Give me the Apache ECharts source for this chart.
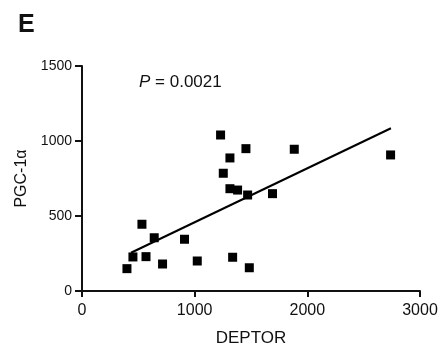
<!DOCTYPE html>
<html>
<head>
<meta charset="utf-8">
<script src="https://cdn.jsdelivr.net/npm/echarts@6/dist/echarts.min.js"></script>
<style>html,body{margin:0;padding:0;background:#fff;}#c{width:441px;height:346px;}</style>
</head>
<body>
<div id="c"></div>
<script>
var deptor = [399, 452, 532, 568, 641, 715, 910, 1023, 1230, 1254, 1313, 1313, 1337, 1381, 1455, 1470, 1485, 1691, 1884, 2739];
var pgc1a  = [149, 227, 445, 229, 355, 180, 345, 200, 1040, 785, 887, 682, 225, 673, 949, 640, 155, 649, 945, 907];
var fitX = [435, 2742];
var fitY = [255, 1085];
var xTicks = [0, 1000, 2000, 3000];
var yTicks = [0, 500, 1000, 1500];
var panelLabel = 'E';
var pText = '0.0021';

var FONT = 'Arial, "Liberation Sans", sans-serif';
var chart = echarts.init(document.getElementById('c'));
chart.setOption({
  animation: false,
  backgroundColor: '#ffffff',
  title: [
    {text: panelLabel, left: 13, top: 8, textStyle: {fontFamily: FONT, fontSize: 25, fontWeight: 'bold', color: '#111'}},
    {text: '{i|P} = ' + pText, left: 134, top: 69, textStyle: {fontFamily: FONT, fontSize: 17, fontWeight: 'normal', color: '#111',
      rich: {i: {fontStyle: 'italic', fontFamily: FONT, fontSize: 17, color: '#111'}}}}
  ],
  grid: {left: 82, right: 21, top: 66, bottom: 55, containLabel: false, outerBoundsMode: 'none'},
  xAxis: {
    type: 'value', min: xTicks[0], max: xTicks[xTicks.length - 1], interval: 1000,
    name: 'DEPTOR', nameLocation: 'middle', nameGap: 39,
    nameTextStyle: {fontFamily: FONT, fontSize: 17, color: '#111'},
    axisLine: {show: true, lineStyle: {color: '#111', width: 2}},
    axisTick: {show: true, inside: false, length: 6, lineStyle: {color: '#111', width: 2}},
    axisLabel: {fontFamily: FONT, fontSize: 16, color: '#111', margin: 12, formatter: function (v) { return String(v); }},
    splitLine: {show: false}
  },
  yAxis: {
    type: 'value', min: yTicks[0], max: yTicks[yTicks.length - 1], interval: 500,
    name: 'PGC-1α', nameLocation: 'middle', nameGap: 51, nameRotate: 90,
    nameTextStyle: {fontFamily: FONT, fontSize: 16, color: '#111'},
    axisLine: {show: true, lineStyle: {color: '#111', width: 2}},
    axisTick: {show: true, inside: false, length: 7, lineStyle: {color: '#111', width: 2}},
    axisLabel: {fontFamily: FONT, fontSize: 14, color: '#111', margin: 10, formatter: function (v) { return String(v); }},
    splitLine: {show: false}
  },
  series: [
    {
      type: 'scatter', symbol: 'rect', symbolSize: 9,
      itemStyle: {color: '#000', opacity: 1},
      data: deptor.map(function (x, i) { return [x, pgc1a[i]]; }),
      z: 3
    },
    {
      type: 'line', symbol: 'none', silent: true,
      lineStyle: {color: '#000', width: 2},
      data: fitX.map(function (x, i) { return [x, fitY[i]]; }),
      z: 2
    }
  ]
});
</script>
</body>
</html>
